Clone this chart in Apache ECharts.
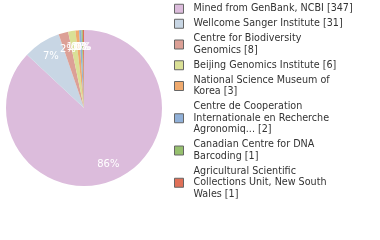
<!DOCTYPE html>
<html><head><meta charset="utf-8">
<script src="https://cdn.jsdelivr.net/npm/echarts@6/dist/echarts.min.js"></script>
<style>html,body{margin:0;padding:0;background:#fff}#c{width:380px;height:240px}</style>
</head><body><div id="c"></div>
<script>
const categories = [
  "Mined from GenBank, NCBI",
  "Wellcome Sanger Institute",
  "Centre for Biodiversity Genomics",
  "Beijing Genomics Institute",
  "National Science Museum of Korea",
  "Centre de Cooperation Internationale en Recherche Agronomiq...",
  "Canadian Centre for DNA Barcoding",
  "Agricultural Scientific Collections Unit, New South Wales"
];
const counts = [347, 31, 8, 6, 3, 2, 1, 1];
const colors = ["#dcbcdc", "#c8d6e4", "#dca096", "#dae096", "#f0aa6e", "#90b0d8", "#96c06e", "#e07058"];

const total = counts.reduce((a, b) => a + b, 0);
function wrap(s, n) {
  const words = s.split(' '); const lines = []; let cur = '';
  words.forEach(w => {
    if (!cur) cur = w;
    else if ((cur + ' ' + w).length <= n) cur += ' ' + w;
    else { lines.push(cur); cur = w; }
  });
  if (cur) lines.push(cur);
  return lines.join('\n');
}
const data = categories.map((c, i) => ({ name: c, value: counts[i], itemStyle: { color: colors[i] } }));
const font = 'DejaVu Sans';
const chart = echarts.init(document.getElementById('c'), null, { renderer: 'canvas' });
chart.setOption({
  animation: false,
  legend: {
    orient: 'vertical', left: 174, top: 3, padding: 0,
    itemWidth: 9, itemHeight: 9, itemGap: 3.5,
    icon: 'rect',
    itemStyle: { borderColor: '#666', borderWidth: 1 },
    textStyle: { fontFamily: font, fontSize: 9.6, color: '#333', lineHeight: 11.5, padding: [0, 0, 0, 5] },
    formatter: name => {
      const i = categories.indexOf(name);
      return wrap(name + ' [' + counts[i] + ']', 30);
    },
    data: categories
  },
  series: [{
    type: 'pie', center: [84, 108], radius: 78, startAngle: 90, clockwise: true,
    label: { show: false }, labelLine: { show: false }, silent: true,
    data: data
  }, {
    type: 'pie', center: [84, 108], radius: [38, 78], startAngle: 90, clockwise: true,
    silent: true, legendHoverLink: false, avoidLabelOverlap: false,
    itemStyle: { color: 'rgba(0,0,0,0)' },
    label: { show: true, position: 'inside', color: '#fff', fontFamily: font, fontSize: 10,
      formatter: p => Math.floor(p.value / total * 100) + '%' },
    labelLayout: { hideOverlap: false },
    labelLine: { show: false },
    data: categories.map((c, i) => ({ name: c + ' ', value: counts[i] }))
  }]
});
</script></body></html>
